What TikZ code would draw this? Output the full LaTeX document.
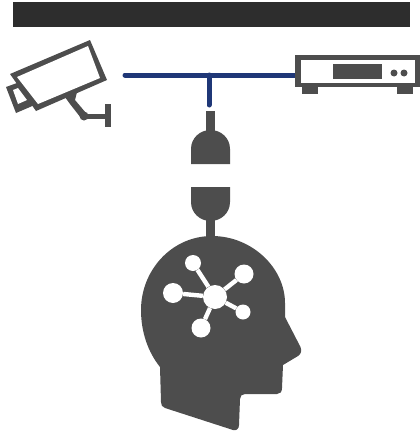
\documentclass[tikz,border=0pt]{standalone}
\definecolor{iconGray}{HTML}{4D4D4D}
\definecolor{barDark}{HTML}{2D2D2D}
\definecolor{cableBlue}{HTML}{1F3777}
\tikzset{
  icon/.style={fill=iconGray, draw=none},
  hole/.style={fill=white, draw=none},
  hub/.style={circle, fill=white, draw=none, inner sep=0pt},
  spoke/.style={draw=white, line width=4.4pt},
  cable/.style={draw=cableBlue, line width=5pt}
}
\begin{document}
\begin{tikzpicture}[x=1pt, y=-1pt]
  \useasboundingbox (0, 0) rectangle (420, 431);

  % Top bar
  \fill[barDark] (13, 2) rectangle (410, 27);

  % Left side: camera
  \fill[icon] (6, 87) -- (17, 83) -- (36, 104) -- (30, 107) -- (16, 113) -- cycle;
  \fill[hole] (13, 90) -- (18, 88) -- (27, 100) -- (18, 104) -- cycle;
  \fill[icon] (10, 74) -- (90, 40) -- (107, 80) -- (36, 111) -- cycle;
  \fill[hole] (17, 77) -- (88, 46) -- (100, 78) -- (38, 104) -- cycle;
  \fill[icon] (65, 97) -- (77, 92) -- (75, 100) -- (86, 113) -- (81, 118) -- (70, 104) -- cycle;
  \fill[icon] (84, 116) circle (4.5);
  \fill[icon] (84, 113.5) rectangle (108, 118.5);
  \fill[icon] (105, 104) rectangle (111, 127);

  % Right side: recorder
  \fill[icon] (302, 86) rectangle (318, 94);
  \fill[icon] (397, 86) rectangle (413, 94);
  \fill[icon] (295, 55) rectangle (420, 87);
  \fill[hole] (301, 60) rectangle (415, 83);
  \fill[icon] (333, 64) rectangle (382, 79);
  \fill[icon] (394, 73) circle (3.5);
  \fill[icon] (404, 73) circle (3.5);

  % Blue cable
  \coordinate (cam-end) at (125, 75);
  \coordinate (rec-end) at (295, 75);
  \coordinate (tee) at (209, 75);
  \coordinate (plug-end) at (209, 105);
  \draw[cable, line cap=round] (cam-end) -- (tee);
  \draw[cable] (tee) -- (rec-end);
  \draw[cable, line cap=round] (tee) -- (plug-end);

  % Plug and socket
  \fill[icon] (206, 111) rectangle (215, 134);
  \fill[icon] (191, 164) -- (191, 149) .. controls (191, 138) and (200, 130) .. (210.5, 130)
    .. controls (221, 130) and (230, 138) .. (230, 149) -- (230, 164) -- cycle;
  \fill[icon] (191, 187) -- (191, 202) .. controls (191, 213) and (200, 221) .. (210.5, 221)
    .. controls (221, 221) and (230, 213) .. (230, 202) -- (230, 187) -- cycle;
  \fill[icon] (206, 219) rectangle (215, 240);

  % Head
  \fill[icon] (212, 236) .. controls (252, 236) and (285, 268) .. (285, 303)
    -- (285, 317) -- (300.5, 347) .. controls (302, 351) and (301, 354) .. (298, 356)
    -- (283, 365) -- (282, 388) .. controls (282, 392) and (280, 394) .. (277, 394)
    -- (245, 394) .. controls (242, 394) and (240, 396) .. (240, 399)
    -- (239, 425) .. controls (239, 429) and (236, 431) .. (233, 430)
    -- (165, 408) .. controls (162, 407) and (161, 405) .. (161, 402)
    -- (160, 367) .. controls (148, 352) and (141, 332) .. (141, 310)
    .. controls (141, 270) and (172, 236) .. (212, 236) -- cycle;

  % Network inside the head
  \node[hub, minimum size=24pt] (net-center) at (215, 297) {};
  \node[hub, minimum size=16pt] (net-top) at (193, 263) {};
  \node[hub, minimum size=19pt] (net-right) at (244, 274) {};
  \node[hub, minimum size=20pt] (net-left) at (173, 293) {};
  \node[hub, minimum size=15pt] (net-lowright) at (243, 312) {};
  \node[hub, minimum size=19pt] (net-bottom) at (201, 328) {};

  \draw[spoke] (net-center) -- (net-top);
  \draw[spoke] (net-center) -- (net-right);
  \draw[spoke] (net-center) -- (net-left);
  \draw[spoke] (net-center) -- (net-lowright);
  \draw[spoke] (net-center) -- (net-bottom);
\end{tikzpicture}
\end{document}
